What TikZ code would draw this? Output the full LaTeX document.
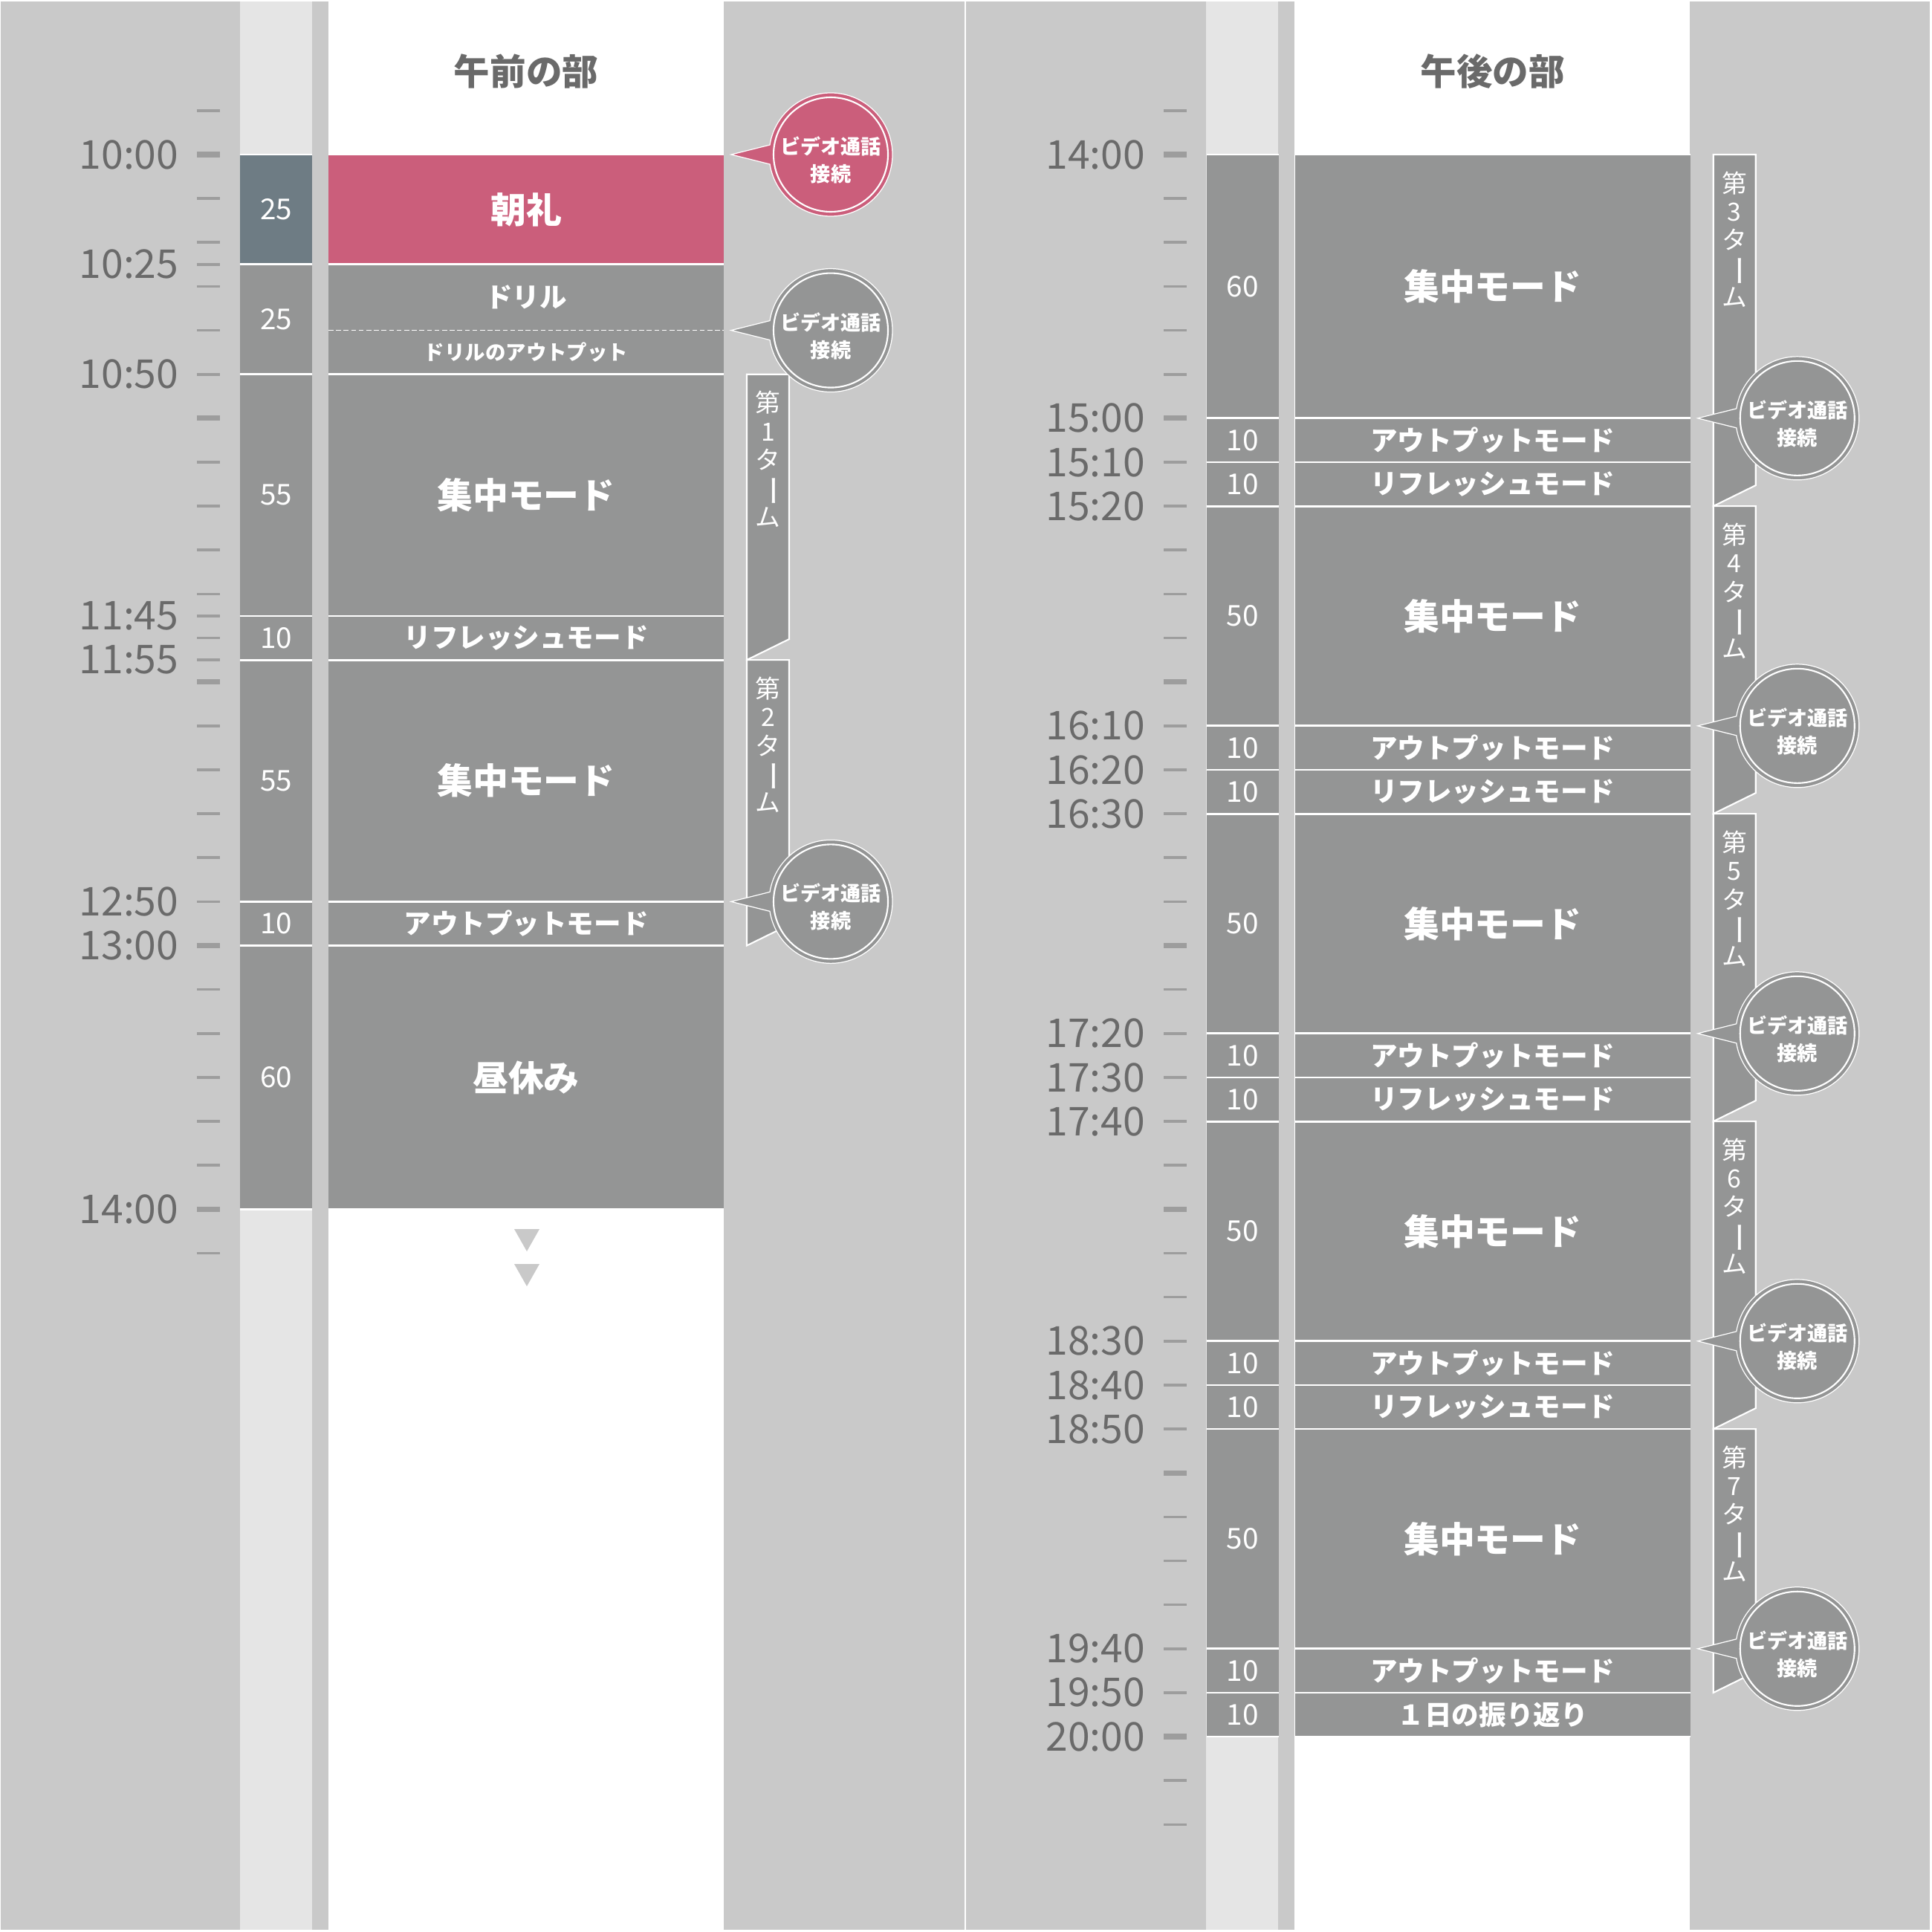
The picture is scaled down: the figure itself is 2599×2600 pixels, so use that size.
\documentclass[tikz,border=0pt]{standalone}
\usepackage{fontspec}
\setmainfont{Noto Sans CJK JP}
\definecolor{bggray}{HTML}{C9C9C9}
\definecolor{colgray}{HTML}{E5E5E5}
\definecolor{blockgray}{HTML}{949595}
\definecolor{tickgray}{HTML}{9D9D9D}
\definecolor{labelgray}{HTML}{6A6A6A}
\definecolor{rosepink}{HTML}{CB5E7B}
\definecolor{slate}{HTML}{6E7C84}
\newcommand{\vchoon}{\rotatebox[origin=c]{-90}{\scalebox{1.25}[1.3]{ー}}}
\tikzset{
  sepline/.style={white, line width=0.8pt},
  bigtxt/.style={text=white, font=\bfseries\fontsize{13.6}{16}\selectfont},
  midtxt/.style={text=white, font=\bfseries\fontsize{10.4}{12}\selectfont},
  smalltxt/.style={text=white, font=\bfseries\fontsize{7.8}{9}\selectfont},
  durtxt/.style={text=white, font=\fontsize{11}{12}\selectfont},
  timetxt/.style={text=labelgray, anchor=east, inner sep=0pt, font=\fontsize{15.2}{16}\selectfont},
  headtxt/.style={text=labelgray, font=\bfseries\fontsize{13.8}{16}\selectfont},
  termbox/.style={fill=blockgray, draw=white, line width=0.6pt},
  termtxt/.style={text=white, align=center, inner sep=0pt, anchor=north, font=\fontsize{9.6}{10.9}\selectfont},
  calltxt/.style={text=white, align=center, inner sep=0pt, font=\bfseries\fontsize{7.7}{10.5}\selectfont},
  callout/.pic={
    \fill[fill=#1, draw=white, line width=0.35pt] (-134,0) -- (171:83) arc[start angle=171, end angle=-171, radius=83] -- cycle;
    \draw[white, line width=0.6pt] (0,0) circle[radius=77];
    \node[calltxt] (-txt) at (0,-7.5) {ビデオ通話\\接続};
  },
}

\begin{document}
\begin{tikzpicture}[x=0.01cm, y=0.01cm, declare function={ty(\m)=-(208+5.914*\m);}]
\useasboundingbox (0,0) rectangle (2599,-2600);
\fill[white] (0,0) rectangle (2599,-2600);
\fill[bggray] (1,-2) rectangle (2597,-2597);
\fill[white] (1298,0) rectangle (1300,-2600);
\foreach \dx in {0,1300} {
  \fill[colgray] (323+\dx,-2) rectangle (420+\dx,-2597);
  \fill[white] (442+\dx,-2) rectangle (974+\dx,-2597);
}

% morning
\foreach \m in {-10,0,...,250,25,105,115}
  \fill[tickgray] (265,{ty(\m)+1.8}) rectangle (296,{ty(\m)-1.8});
\foreach \m in {0,60,...,240}
  \fill[tickgray] (265,{ty(\m)+3.6}) rectangle (296,{ty(\m)-3.6});
\foreach \m/\t in {0/10:00,25/10:25,50/10:50,105/11:45,115/11:55,170/12:50,180/13:00,240/14:00}
  \node[timetxt] (tL\m) at (241,{ty(\m)}) {\t};

\node[headtxt] (amHead) at (708,-96) {午前の部};

\fill[slate] (323,{ty(0)}) rectangle (420,{ty(25)});
\fill[rosepink] (442,{ty(0)}) rectangle (974,{ty(25)});
\node[durtxt] (dL0) at (371.5,{ty(12.5)}) {25};
\node[bigtxt] (mL0) at (708,{ty(12.5)}) {朝礼};

\foreach \a/\b/\d in {25/50/25,50/105/55,105/115/10,115/170/55,170/180/10,180/240/60} {
  \fill[blockgray] (323,{ty(\a)}) rectangle (420,{ty(\b)});
  \fill[blockgray] (442,{ty(\a)}) rectangle (974,{ty(\b)});
  \node[durtxt] (dL\a) at (371.5,{(ty(\a)+ty(\b))/2}) {\d};
}
\foreach \m in {0,25,50,105,115,170,180,240} {
  \draw[sepline] (323,{ty(\m)}) -- (420,{ty(\m)});
  \draw[sepline] (442,{ty(\m)}) -- (974,{ty(\m)});
}
\draw[white, line width=0.45pt, dash pattern=on 1.9pt off 1pt] (442,{ty(40)}) -- (974,{ty(40)});
\node[midtxt] (mL25) at (708,{ty(32.5)}) {ドリル};
\node[smalltxt] (mL40) at (708,{ty(45)}) {ドリルのアウトプット};
\foreach \a/\b/\t in {50/105/集中モード,115/170/集中モード,180/240/昼休み}
  \node[bigtxt] (mL\a) at (708,{(ty(\a)+ty(\b))/2}) {\t};
\foreach \a/\b/\t in {105/115/リフレッシュモード,170/180/アウトプットモード}
  \node[midtxt] (mL\a) at (708,{(ty(\a)+ty(\b))/2}) {\t};

\fill[bggray] (692,-1654) -- (726,-1654) -- (709,-1684) -- cycle;
\fill[bggray] (692,-1701) -- (726,-1701) -- (709,-1731) -- cycle;

\foreach \a/\b/\n in {50/115/1,115/180/2} {
  \draw[termbox] (1005,{ty(\a)}) -- (1062,{ty(\a)}) -- (1062,{ty(\b)+28}) -- (1005,{ty(\b)}) -- cycle;
  \node[termtxt] (term\n) at (1033.5,{ty(\a)-22}) {第\\\n\\タ\\\vchoon\\ム};
}
\pic (callA) at (1118,{ty(0)}) {callout=rosepink};
\pic (callB) at (1118,{ty(40)}) {callout=blockgray};
\pic (callC) at (1118,{ty(170)}) {callout=blockgray};

% afternoon
\begin{scope}[xshift=13cm]
\foreach \m in {-10,0,...,380}
  \fill[tickgray] (265,{ty(\m)+1.8}) rectangle (296,{ty(\m)-1.8});
\foreach \m in {0,60,...,360}
  \fill[tickgray] (265,{ty(\m)+3.6}) rectangle (296,{ty(\m)-3.6});
\foreach \m/\t in {0/14:00,60/15:00,70/15:10,80/15:20,130/16:10,140/16:20,150/16:30,200/17:20,210/17:30,220/17:40,270/18:30,280/18:40,290/18:50,340/19:40,350/19:50,360/20:00}
  \node[timetxt] (tR\m) at (241,{ty(\m)}) {\t};

\node[headtxt] (pmHead) at (708,-96) {午後の部};

\foreach \a/\b/\d in {0/60/60,60/70/10,70/80/10,80/130/50,130/140/10,140/150/10,150/200/50,200/210/10,210/220/10,220/270/50,270/280/10,280/290/10,290/340/50,340/350/10,350/360/10} {
  \fill[blockgray] (323,{ty(\a)}) rectangle (420,{ty(\b)});
  \fill[blockgray] (442,{ty(\a)}) rectangle (974,{ty(\b)});
  \node[durtxt] (dR\a) at (371.5,{(ty(\a)+ty(\b))/2}) {\d};
}
\foreach \m in {0,60,70,80,130,140,150,200,210,220,270,280,290,340,350,360} {
  \draw[sepline] (323,{ty(\m)}) -- (420,{ty(\m)});
  \draw[sepline] (442,{ty(\m)}) -- (974,{ty(\m)});
}
\foreach \a/\b in {0/60,80/130,150/200,220/270,290/340}
  \node[bigtxt] (mR\a) at (708,{(ty(\a)+ty(\b))/2}) {集中モード};
\foreach \a in {60,130,200,270,340}
  \node[midtxt] (mR\a) at (708,{ty(\a+5)}) {アウトプットモード};
\foreach \a in {70,140,210,280}
  \node[midtxt] (mR\a) at (708,{ty(\a+5)}) {リフレッシュモード};
\node[midtxt] (mR350) at (708,{ty(355)}) {１日の振り返り};

\foreach \a/\b/\n in {0/80/3,80/150/4,150/220/5,220/290/6,290/350/7} {
  \draw[termbox] (1005,{ty(\a)}) -- (1062,{ty(\a)}) -- (1062,{ty(\b)+28}) -- (1005,{ty(\b)}) -- cycle;
  \node[termtxt] (term\n) at (1033.5,{ty(\a)-22}) {第\\\n\\タ\\\vchoon\\ム};
}
\foreach \m in {60,130,200,270,340}
  \pic (callR\m) at (1118,{ty(\m)}) {callout=blockgray};
\end{scope}
\end{tikzpicture}
\end{document}
